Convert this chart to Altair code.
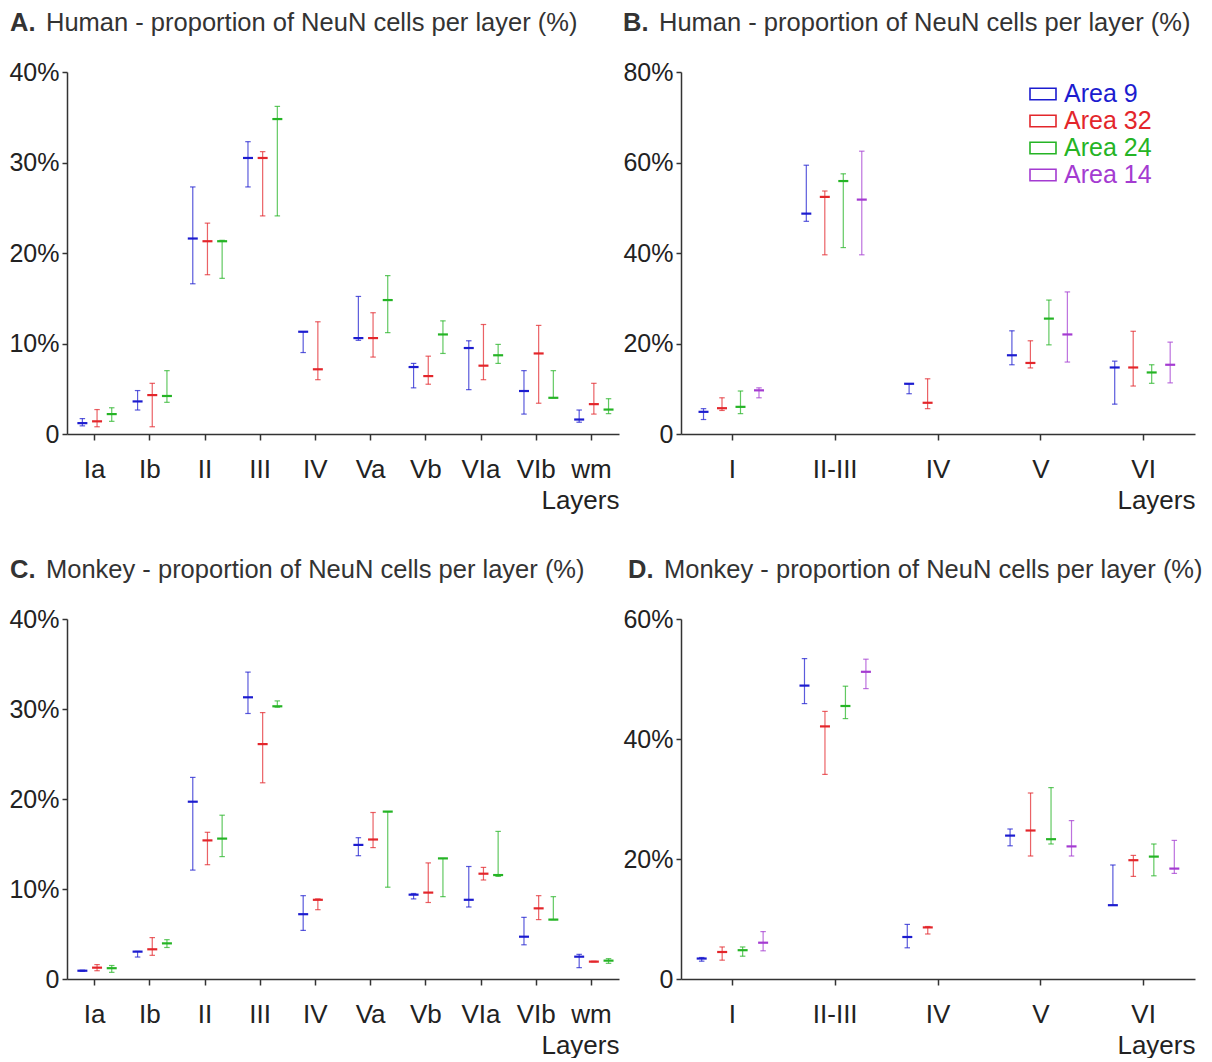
import altair as alt
import pandas as pd

FONT = "Liberation Sans"
AREAS = ["Area 9", "Area 32", "Area 24", "Area 14"]
COLORS = ["#1c1ccf", "#e3262b", "#25b425", "#a43bd1"]

# ---------------- Panel A : Human, fine layers ----------------
A_layers = ["Ia", "Ib", "II", "III", "IV", "Va", "Vb", "VIa", "VIb", "wm"]
A9_lo = [0.9, 2.65, 16.6, 27.3, 9.0, 10.35, 5.1, 4.9, 2.2, 1.3]
A9_med = [1.2, 3.6, 21.6, 30.5, 11.3, 10.6, 7.4, 9.5, 4.75, 1.6]
A9_hi = [1.7, 4.8, 27.3, 32.3, 11.3, 15.2, 7.8, 10.3, 7.0, 2.65]
A32_lo = [0.8, 0.8, 17.6, 24.1, 6.0, 8.5, 5.5, 6.0, 3.4, 2.2]
A32_med = [1.4, 4.3, 21.3, 30.5, 7.15, 10.6, 6.4, 7.55, 8.9, 3.3]
A32_hi = [2.7, 5.6, 23.3, 31.2, 12.4, 13.4, 8.6, 12.1, 12.0, 5.6]
A24_lo = [1.4, 3.5, 17.2, 24.1, None, 11.2, 8.9, 7.8, 4.0, 2.25]
A24_med = [2.2, 4.2, 21.3, 34.8, None, 14.8, 11.0, 8.7, 4.0, 2.7]
A24_hi = [2.9, 7.0, 21.4, 36.2, None, 17.5, 12.5, 9.9, 7.0, 3.9]

# ---------------- Panel B : Human, main layers ----------------
B_layers = ["I", "II-III", "IV", "V", "VI"]
B9_lo = [3.2, 47.0, 8.9, 15.3, 6.6]
B9_med = [4.9, 48.7, 11.1, 17.4, 14.7]
B9_hi = [5.6, 59.4, 11.1, 22.8, 16.1]
B32_lo = [5.2, 39.6, 5.6, 14.6, 10.6]
B32_med = [5.7, 52.4, 6.9, 15.7, 14.7]
B32_hi = [8.0, 53.7, 12.2, 20.6, 22.7]
B24_lo = [4.5, 41.2, None, 19.7, 11.2]
B24_med = [6.0, 55.9, None, 25.5, 13.6]
B24_hi = [9.5, 57.5, None, 29.6, 15.3]
B14_lo = [8.0, 39.6, None, 15.9, 11.3]
B14_med = [9.65, 51.8, None, 22.0, 15.3]
B14_hi = [10.2, 62.5, None, 31.4, 20.3]

# ---------------- Panel C : Monkey, fine layers ----------------
C9_lo = [0.85, 2.44, 12.1, 29.5, 5.4, 13.7, 8.9, 8.0, 3.8, 1.26]
C9_med = [0.92, 3.04, 19.7, 31.3, 7.2, 14.9, 9.37, 8.8, 4.7, 2.48]
C9_hi = [0.98, 3.07, 22.4, 34.1, 9.26, 15.7, 9.5, 12.5, 6.85, 2.74]
C32_lo = [0.92, 2.63, 12.7, 21.8, 7.7, 14.6, 8.5, 11.0, 6.6, 1.9]
C32_med = [1.26, 3.3, 15.4, 26.1, 8.8, 15.5, 9.6, 11.7, 7.85, 1.93]
C32_hi = [1.6, 4.6, 16.3, 29.6, 8.9, 18.5, 12.9, 12.4, 9.26, 1.97]
C24_lo = [0.74, 3.5, 13.6, 30.2, None, 10.2, 9.15, 11.4, 6.6, 1.74]
C24_med = [1.2, 3.96, 15.6, 30.3, None, 18.6, 13.4, 11.55, 6.6, 2.04]
C24_hi = [1.5, 4.37, 18.2, 30.9, None, 18.6, 13.4, 16.4, 9.15, 2.26]

# ---------------- Panel D : Monkey, main layers ----------------
D9_lo = [2.97, 45.9, 5.2, 22.2, 12.3]
D9_med = [3.41, 48.9, 7.0, 23.9, 12.3]
D9_hi = [3.58, 53.4, 9.1, 25.0, 19.0]
D32_lo = [3.14, 34.1, 7.5, 20.5, 17.1]
D32_med = [4.5, 42.1, 8.6, 24.75, 19.8]
D32_hi = [5.34, 44.6, 8.75, 31.0, 20.6]
D24_lo = [3.8, 43.4, None, 22.5, 17.2]
D24_med = [4.8, 45.5, None, 23.3, 20.4]
D24_hi = [5.34, 48.8, None, 31.9, 22.5]
D14_lo = [4.7, 48.4, None, 20.5, 17.6]
D14_med = [6.05, 51.2, None, 22.1, 18.4]
D14_hi = [7.9, 53.3, None, 26.4, 23.1]


def build_df(layers, series):
    rows = []
    for area, (lo, med, hi) in series.items():
        for i, layer in enumerate(layers):
            if med[i] is None:
                continue
            rows.append({"layer": layer, "area": area, "lo": lo[i], "med": med[i], "hi": hi[i]})
    return pd.DataFrame(rows)


label_color_expr = " : ".join(
    f"datum.label == '{a}' ? '{c}'" for a, c in zip(AREAS[:-1], COLORS[:-1])
) + f" : '{COLORS[-1]}'"

TITLE_Y = -41
TITLE_SIZE = 25.5


def panel(df, layers, areas, ymax, yvals, w, h, letter, rest, tx,
          pad_outer, align, legend=False):
    x = alt.X("layer:N", sort=layers,
              scale=alt.Scale(domain=layers, paddingInner=0, paddingOuter=0),
              axis=alt.Axis(title="Layers", labelAngle=0, labelPadding=16,
                            labelFontSize=26, tickSize=6, titleAnchor="end",
                            titleAlign="right", titlePadding=5))
    xo = alt.XOffset("area:N", sort=areas,
                     scale=alt.Scale(domain=areas, paddingInner=0,
                                     paddingOuter=pad_outer, align=align))
    if legend:
        leg = alt.Legend(title=None, orient="none", legendX=348, legendY=8,
                         labelFontSize=25, labelFont=FONT,
                         labelColor={"expr": label_color_expr},
                         symbolType="M-1,-0.44L1,-0.44L1,0.44L-1,0.44Z",
                         symbolSize=676, symbolStrokeWidth=1.6,
                         symbolFillColor="transparent", symbolOpacity=1,
                         labelOffset=7, rowPadding=0, padding=0)
    else:
        leg = None
    color = alt.Color("area:N", sort=areas,
                      scale=alt.Scale(domain=areas, range=COLORS[:len(areas)]),
                      legend=leg)
    y_lo = alt.Y("lo:Q", scale=alt.Scale(domain=[0, ymax], nice=False, zero=True),
                 axis=alt.Axis(values=yvals, title=None, tickSize=5, labelPadding=3,
                               labelFontSize=25,
                               labelExpr="datum.value == 0 ? '0' : datum.value + '%'"))
    base = alt.Chart(df)
    rule = base.mark_rule(strokeWidth=1.2, opacity=0.72).encode(
        x=x, xOffset=xo, y=y_lo, y2="hi:Q", color=color)
    cap_lo = base.mark_point(shape="M-1,0L1,0", filled=False, size=30,
                             strokeWidth=1.2, opacity=0.72).encode(
        x=x, xOffset=xo, y="lo:Q", color=color)
    cap_hi = base.mark_point(shape="M-1,0L1,0", filled=False, size=30,
                             strokeWidth=1.2, opacity=0.72).encode(
        x=x, xOffset=xo, y="hi:Q", color=color)
    med = base.mark_point(shape="M-1,0L1,0", filled=False, size=100,
                          strokeWidth=2.2, opacity=1).encode(
        x=x, xOffset=xo, y="med:Q", color=color)
    t_bold = alt.Chart(alt.Data(values=[{"t": letter}])).mark_text(
        text=letter, font=FONT, fontSize=TITLE_SIZE, fontWeight="bold", color="#333",
        align="left", baseline="alphabetic").encode(
        x=alt.value(tx), y=alt.value(TITLE_Y))
    t_rest = alt.Chart(alt.Data(values=[{"t": rest}])).mark_text(
        text=rest, font=FONT, fontSize=TITLE_SIZE, color="#333",
        align="left", baseline="alphabetic").encode(
        x=alt.value(tx + 36), y=alt.value(TITLE_Y))
    return alt.layer(rule, cap_lo, cap_hi, med, t_bold, t_rest).properties(
        width=w, height=h)


A3 = AREAS[:3]
dfA = build_df(A_layers, {"Area 9": (A9_lo, A9_med, A9_hi),
                          "Area 32": (A32_lo, A32_med, A32_hi),
                          "Area 24": (A24_lo, A24_med, A24_hi)})
dfB = build_df(B_layers, {"Area 9": (B9_lo, B9_med, B9_hi),
                          "Area 32": (B32_lo, B32_med, B32_hi),
                          "Area 24": (B24_lo, B24_med, B24_hi),
                          "Area 14": (B14_lo, B14_med, B14_hi)})
dfC = build_df(A_layers, {"Area 9": (C9_lo, C9_med, C9_hi),
                          "Area 32": (C32_lo, C32_med, C32_hi),
                          "Area 24": (C24_lo, C24_med, C24_hi)})
dfD = build_df(B_layers, {"Area 9": (D9_lo, D9_med, D9_hi),
                          "Area 32": (D32_lo, D32_med, D32_hi),
                          "Area 24": (D24_lo, D24_med, D24_hi),
                          "Area 14": (D14_lo, D14_med, D14_hi)})

pA = panel(dfA, A_layers, A3, 40, [0, 10, 20, 30, 40], 552, 362, "A.",
           "Human - proportion of NeuN cells per layer (%)", -57, 0.38, 0.72)
pB = panel(dfB, B_layers, AREAS, 80, [0, 20, 40, 60, 80], 514, 362, "B.",
           "Human - proportion of NeuN cells per layer (%)", -58, 0.78, 0.46,
           legend=True)
pC = panel(dfC, A_layers, A3, 40, [0, 10, 20, 30, 40], 552, 360, "C.",
           "Monkey - proportion of NeuN cells per layer (%)", -57, 0.38, 0.72)
pD = panel(dfD, B_layers, AREAS, 60, [0, 20, 40, 60], 514, 360, "D.",
           "Monkey - proportion of NeuN cells per layer (%)", -53, 0.51, 0.5)

chart = alt.concat(pA, pB, pC, pD, columns=2,
                   spacing={"row": 45, "column": 3}).resolve_scale(
    color="independent", x="independent", y="independent", xOffset="independent"
).properties(
    padding={"left": 0, "top": 3, "right": 0, "bottom": 0}
).configure_view(stroke=None).configure_axis(
    grid=False, domainColor="#333", domainWidth=1.5, tickColor="#333",
    tickWidth=1.5, labelColor="#222", labelFont=FONT, labelFontSize=25,
    titleFont=FONT, titleFontSize=26, titleFontWeight="normal", titleColor="#222"
).configure_legend(labelLimit=300)

chart.save("out.html", embed_options={"renderer": "svg", "actions": False})
